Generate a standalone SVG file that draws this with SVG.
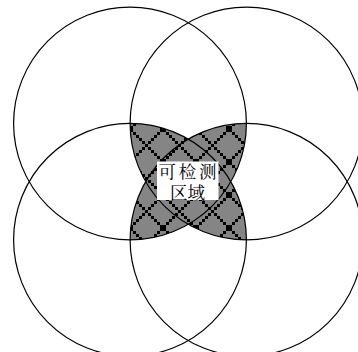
<svg xmlns="http://www.w3.org/2000/svg" width="358" height="352" viewBox="0 0 358 352">
<style>
.c{fill:none;stroke:#000;stroke-width:1.2}
.t{font-family:"Noto Serif CJK SC","Noto Sans CJK SC",serif;font-size:17.5px;fill:#000;text-anchor:middle}
</style>
<defs>
<pattern id="hatch" x="-2" y="-3" width="33" height="33" patternUnits="userSpaceOnUse">
<rect width="33" height="33" fill="#858585"/>
<g fill="#000">
<rect x="0" y="0" width="3" height="3"/><rect x="3" y="3" width="3" height="3"/><rect x="6" y="6" width="3" height="3"/><rect x="9" y="9" width="3" height="3"/><rect x="12" y="12" width="3" height="3"/><rect x="15" y="15" width="3" height="3"/><rect x="18" y="18" width="3" height="3"/><rect x="21" y="21" width="3" height="3"/><rect x="24" y="24" width="3" height="3"/><rect x="27" y="27" width="3" height="3"/><rect x="30" y="30" width="3" height="3"/>
<rect x="30" y="0" width="3" height="3"/><rect x="27" y="3" width="3" height="3"/><rect x="24" y="6" width="3" height="3"/><rect x="21" y="9" width="3" height="3"/><rect x="18" y="12" width="3" height="3"/><rect x="15" y="15" width="3" height="3"/><rect x="12" y="18" width="3" height="3"/><rect x="9" y="21" width="3" height="3"/><rect x="6" y="24" width="3" height="3"/><rect x="3" y="27" width="3" height="3"/><rect x="0" y="30" width="3" height="3"/>
</g>
</pattern>
<clipPath id="cTL"><circle cx="130" cy="123.5" r="116.4"/></clipPath>
<clipPath id="cTR"><circle cx="246.5" cy="123.5" r="116.4"/></clipPath>
</defs>
<rect width="358" height="352" fill="#fff"/>
<g id="region">
<g clip-path="url(#cTL)"><circle cx="246.5" cy="239.8" r="116.4" fill="url(#hatch)"/></g>
<g clip-path="url(#cTR)"><circle cx="130" cy="239.8" r="116.4" fill="url(#hatch)"/></g>
</g>
<g id="circles">
<circle id="tl" class="c" cx="130" cy="123.5" r="116.4"/>
<circle id="tr" class="c" cx="246.5" cy="123.5" r="116.4"/>
<circle id="bl" class="c" cx="130" cy="239.8" r="116.4"/>
<circle id="br" class="c" cx="246.5" cy="239.8" r="116.4"/>
</g>
<g id="label">
<rect x="157" y="161.5" width="61.5" height="38.5" fill="#fff"/>
<text class="t" x="187.5" y="177.5" textLength="58" lengthAdjust="spacing">可检测</text>
<text class="t" x="187.5" y="199">区域</text>
</g>
</svg>
